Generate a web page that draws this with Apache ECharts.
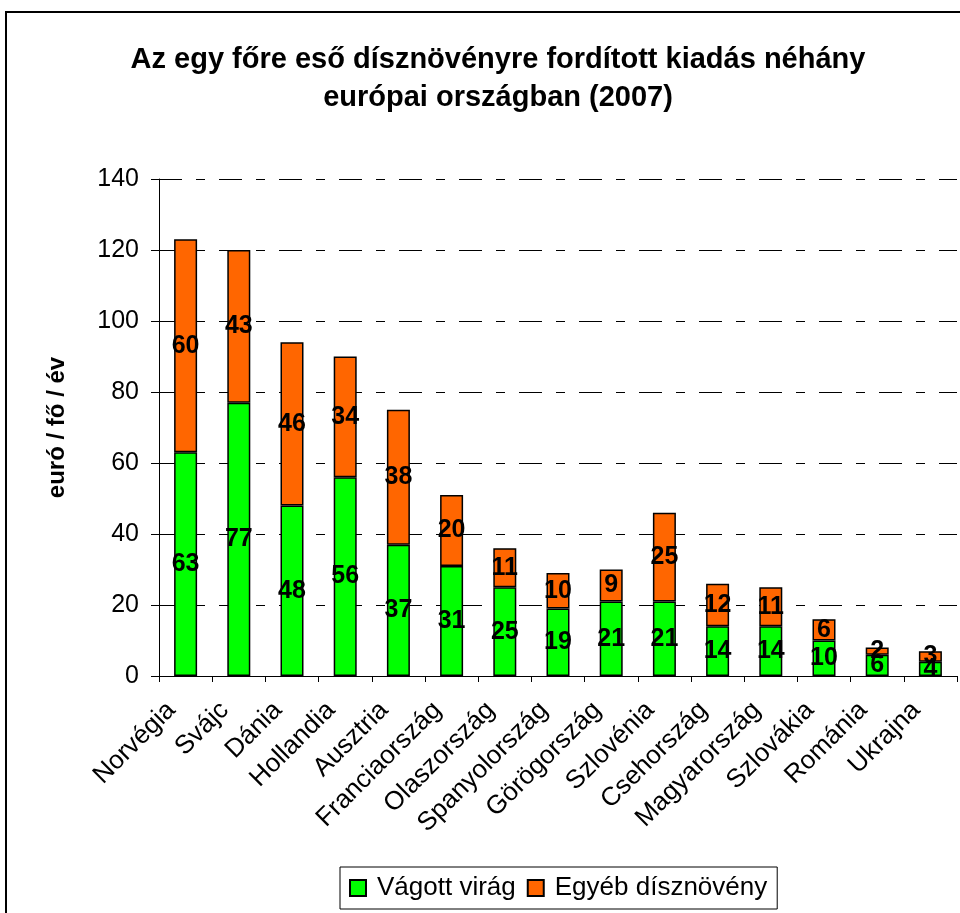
<!DOCTYPE html>
<html>
<head>
<meta charset="utf-8">
<script src="https://cdn.jsdelivr.net/npm/echarts@6/dist/echarts.min.js"></script>
<style>
  html, body { margin: 0; padding: 0; background: #fff; }
  #chart { width: 960px; height: 913px; }
</style>
</head>
<body>
<div id="chart"></div>
<script>
const countries = ['Norvégia', 'Svájc', 'Dánia', 'Hollandia', 'Ausztria', 'Franciaország', 'Olaszország',
  'Spanyolország', 'Görögország', 'Szlovénia', 'Csehország', 'Magyarország', 'Szlovákia', 'Románia', 'Ukrajna']
const cutFlowers = [63, 77, 48, 56, 37, 31, 25, 19, 21, 21, 14, 14, 10, 6, 4]
const otherPlants = [60, 43, 46, 34, 38, 20, 11, 10, 9, 25, 12, 11, 6, 2, 3]
const yTicks = { min: 0, max: 140, interval: 20 }

const font = 'Liberation Sans, Arial, sans-serif'

const chart = echarts.init(document.getElementById('chart'), null, { renderer: 'canvas' })

const barLabel = {
  show: true,
  position: 'inside',
  color: '#000',
  fontFamily: font,
  fontWeight: 'bold',
  fontSize: 25
}

chart.setOption({
  animation: false,
  backgroundColor: '#fff',
  textStyle: { fontFamily: font, color: '#000' },
  title: {
    text: 'Az egy főre eső dísznövényre fordított kiadás néhány\neurópai országban (2007)',
    left: 493,
    top: 36,
    textAlign: 'center',
    textStyle: {
      fontFamily: font,
      fontWeight: 'bold',
      fontSize: 29,
      lineHeight: 38,
      color: '#000'
    }
  },
  graphic: [
    {
      type: 'rect',
      shape: { x: 6, y: 12, width: 980, height: 940 },
      style: { fill: 'none', stroke: '#000', lineWidth: 2 },
      silent: true
    }
  ],
  legend: {
    left: 340,
    top: 867,
    padding: [8, 10, 8, 9],
    itemWidth: 16,
    itemHeight: 16,
    itemGap: 11,
    borderColor: '#000',
    borderWidth: 1,
    icon: 'rect',
    textStyle: { fontFamily: font, fontSize: 26, color: '#000', padding: [0, 0, 0, 6] },
    data: ['Vágott virág', 'Egyéb dísznövény']
  },
  grid: {
    left: 159,
    right: 3,
    top: 179,
    bottom: 237,
    containLabel: false
  },
  xAxis: {
    type: 'category',
    data: countries,
    axisLine: { lineStyle: { color: '#000', width: 1 } },
    axisTick: { show: true, length: 6, lineStyle: { color: '#000' } },
    axisLabel: {
      interval: 0,
      rotate: 45,
      margin: 16,
      padding: [0, 20, 0, 0],
      fontFamily: font,
      fontSize: 26,
      color: '#000'
    }
  },
  yAxis: {
    type: 'value',
    min: yTicks.min,
    max: yTicks.max,
    interval: yTicks.interval,
    name: 'euró / fő / év',
    nameLocation: 'middle',
    nameGap: 90,
    nameTextStyle: { fontFamily: font, fontWeight: 'bold', fontSize: 24, color: '#000' },
    axisLine: { show: true, lineStyle: { color: '#000', width: 1 } },
    axisTick: { show: true, length: 8, lineStyle: { color: '#000' } },
    axisLabel: { margin: 20, fontFamily: font, fontSize: 25, color: '#000' },
    splitLine: {
      show: true,
      lineStyle: { color: '#000', width: 1, type: [23, 14, 9, 14] }
    }
  },
  series: [
    {
      name: 'Vágott virág',
      type: 'bar',
      stack: 'total',
      barWidth: 23,
      data: cutFlowers,
      itemStyle: { color: '#00ff00', borderColor: '#000', borderWidth: 1.5 },
      label: barLabel
    },
    {
      name: 'Egyéb dísznövény',
      type: 'bar',
      stack: 'total',
      barWidth: 23,
      data: otherPlants,
      itemStyle: { color: '#ff6600', borderColor: '#000', borderWidth: 1.5 },
      label: barLabel
    }
  ]
})
</script>
</body>
</html>
